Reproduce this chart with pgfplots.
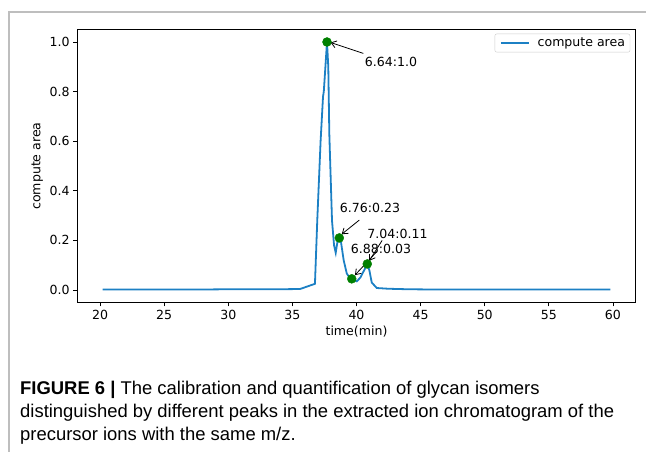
\documentclass[border=0pt]{standalone}
\usepackage{fontspec}
\setmainfont{DejaVu Sans}
\newfontfamily\capfont{Liberation Sans}
\usepackage{pgfplots}
\pgfplotsset{compat=1.18}
\usetikzlibrary{arrows.meta}
\definecolor{mplblue}{RGB}{28,128,196}
\definecolor{mplgreen}{HTML}{008000}
\definecolor{framegray}{RGB}{190,190,190}

\pgfplotstableread{
t v
20.2 0.002
22 0.002
25 0.002
28 0.002
30 0.003
32 0.003
34 0.003
35.6 0.004
36.76 0.025
36.94 0.28
37.2 0.60
37.39 0.78
37.45 0.80
37.70 1.00
37.80 0.90
37.88 0.63
38.09 0.28
38.25 0.18
38.38 0.15
38.50 0.19
38.66 0.21
38.80 0.19
39.0 0.12
39.24 0.067
39.45 0.05
39.63 0.045
39.85 0.04
40.02 0.035
40.3 0.05
40.6 0.08
40.84 0.105
41.0 0.08
41.19 0.03
41.58 0.008
42.5 0.005
44 0.003
46 0.002
50 0.002
55 0.002
59.8 0.002
}\areadata

\begin{document}
\begin{tikzpicture}
\useasboundingbox (-77.2bp,-149.6bp) rectangle (568.8bp,302.4bp);
\draw[framegray, line width=1.2bp] (-68.2bp,-149.6bp) -- (-68.2bp,290.4bp) -- (568.8bp,290.4bp);
\begin{axis}[
    at={(0,0)}, anchor=south west,
    scale only axis, width=558.6bp, height=272.8bp,
    xmin=18.22, xmax=61.78, ymin=-0.05, ymax=1.05,
    xtick={20,25,30,35,40,45,50,55,60},
    xticklabels={20,25,30,35,40,45,50,55,60},
    ytick={0,0.2,0.4,0.6,0.8,1.0},
    yticklabels={0.0,0.2,0.4,0.6,0.8,1.0},
    tick align=outside, xtick pos=bottom, ytick pos=left,
    major tick length=4bp,
    axis line style={line width=0.9bp},
    every tick/.style={black, line width=0.9bp},
    tick label style={font=\fontsize{12.6}{15}\selectfont},
    label style={font=\fontsize{12.6}{15}\selectfont},
    xlabel={time(min)}, ylabel={compute area},
    legend style={at={(0.99,0.985)}, anchor=north east, draw=black!20,
        rounded corners=2bp, font=\fontsize{12.6}{15}\selectfont,
        inner xsep=3bp, inner ysep=2bp},
    legend cell align=left,
    legend image code/.code={\draw[#1] (2bp,0bp) -- (30bp,0bp); \path (0bp,0bp) (36bp,0bp);},
]
\addplot[mplblue, line width=1.8bp] table[x=t, y=v] {\areadata};
\addlegendentry{compute area}
\addplot[only marks, mark=*, mark size=4.5bp, mplgreen, forget plot]
    coordinates {(37.70,1.0) (38.66,0.21) (39.63,0.045) (40.84,0.105)};
\draw[line width=0.8bp, -{Straight Barb[length=5bp,width=7bp]}]
    (axis cs:40.53,0.954) -- (axis cs:37.98,0.998);
\draw[line width=0.8bp, -{Straight Barb[length=5bp,width=7bp]}]
    (axis cs:40.22,0.282) -- (axis cs:38.85,0.225);
\draw[line width=0.8bp, -{Straight Barb[length=5bp,width=7bp]}]
    (axis cs:41.57,0.154) -- (axis cs:39.88,0.060);
\draw[line width=0.8bp, -{Straight Barb[length=5bp,width=7bp]}]
    (axis cs:42.0,0.200) -- (axis cs:41.0,0.118);
\node[font=\fontsize{12.6}{15}\selectfont] at (axis cs:42.69,0.919) {6.64:1.0};
\node[font=\fontsize{12.6}{15}\selectfont] at (axis cs:41.05,0.331) {6.76:0.23};
\node[font=\fontsize{12.6}{15}\selectfont] at (axis cs:43.2,0.225) {7.04:0.11};
\node[font=\fontsize{12.6}{15}\selectfont] at (axis cs:41.91,0.165) {6.88:0.03};
\end{axis}
\node[anchor=base west, align=left, inner sep=0pt,
      font=\capfont\fontsize{18.5}{23}\selectfont]
  at (-57.2bp,-137.6bp)
  {\textbf{FIGURE 6 |} The calibration and quantification of glycan isomers\\
   distinguished by different peaks in the extracted ion chromatogram of the\\
   precursor ions with the same m/z.};
\end{tikzpicture}
\end{document}
